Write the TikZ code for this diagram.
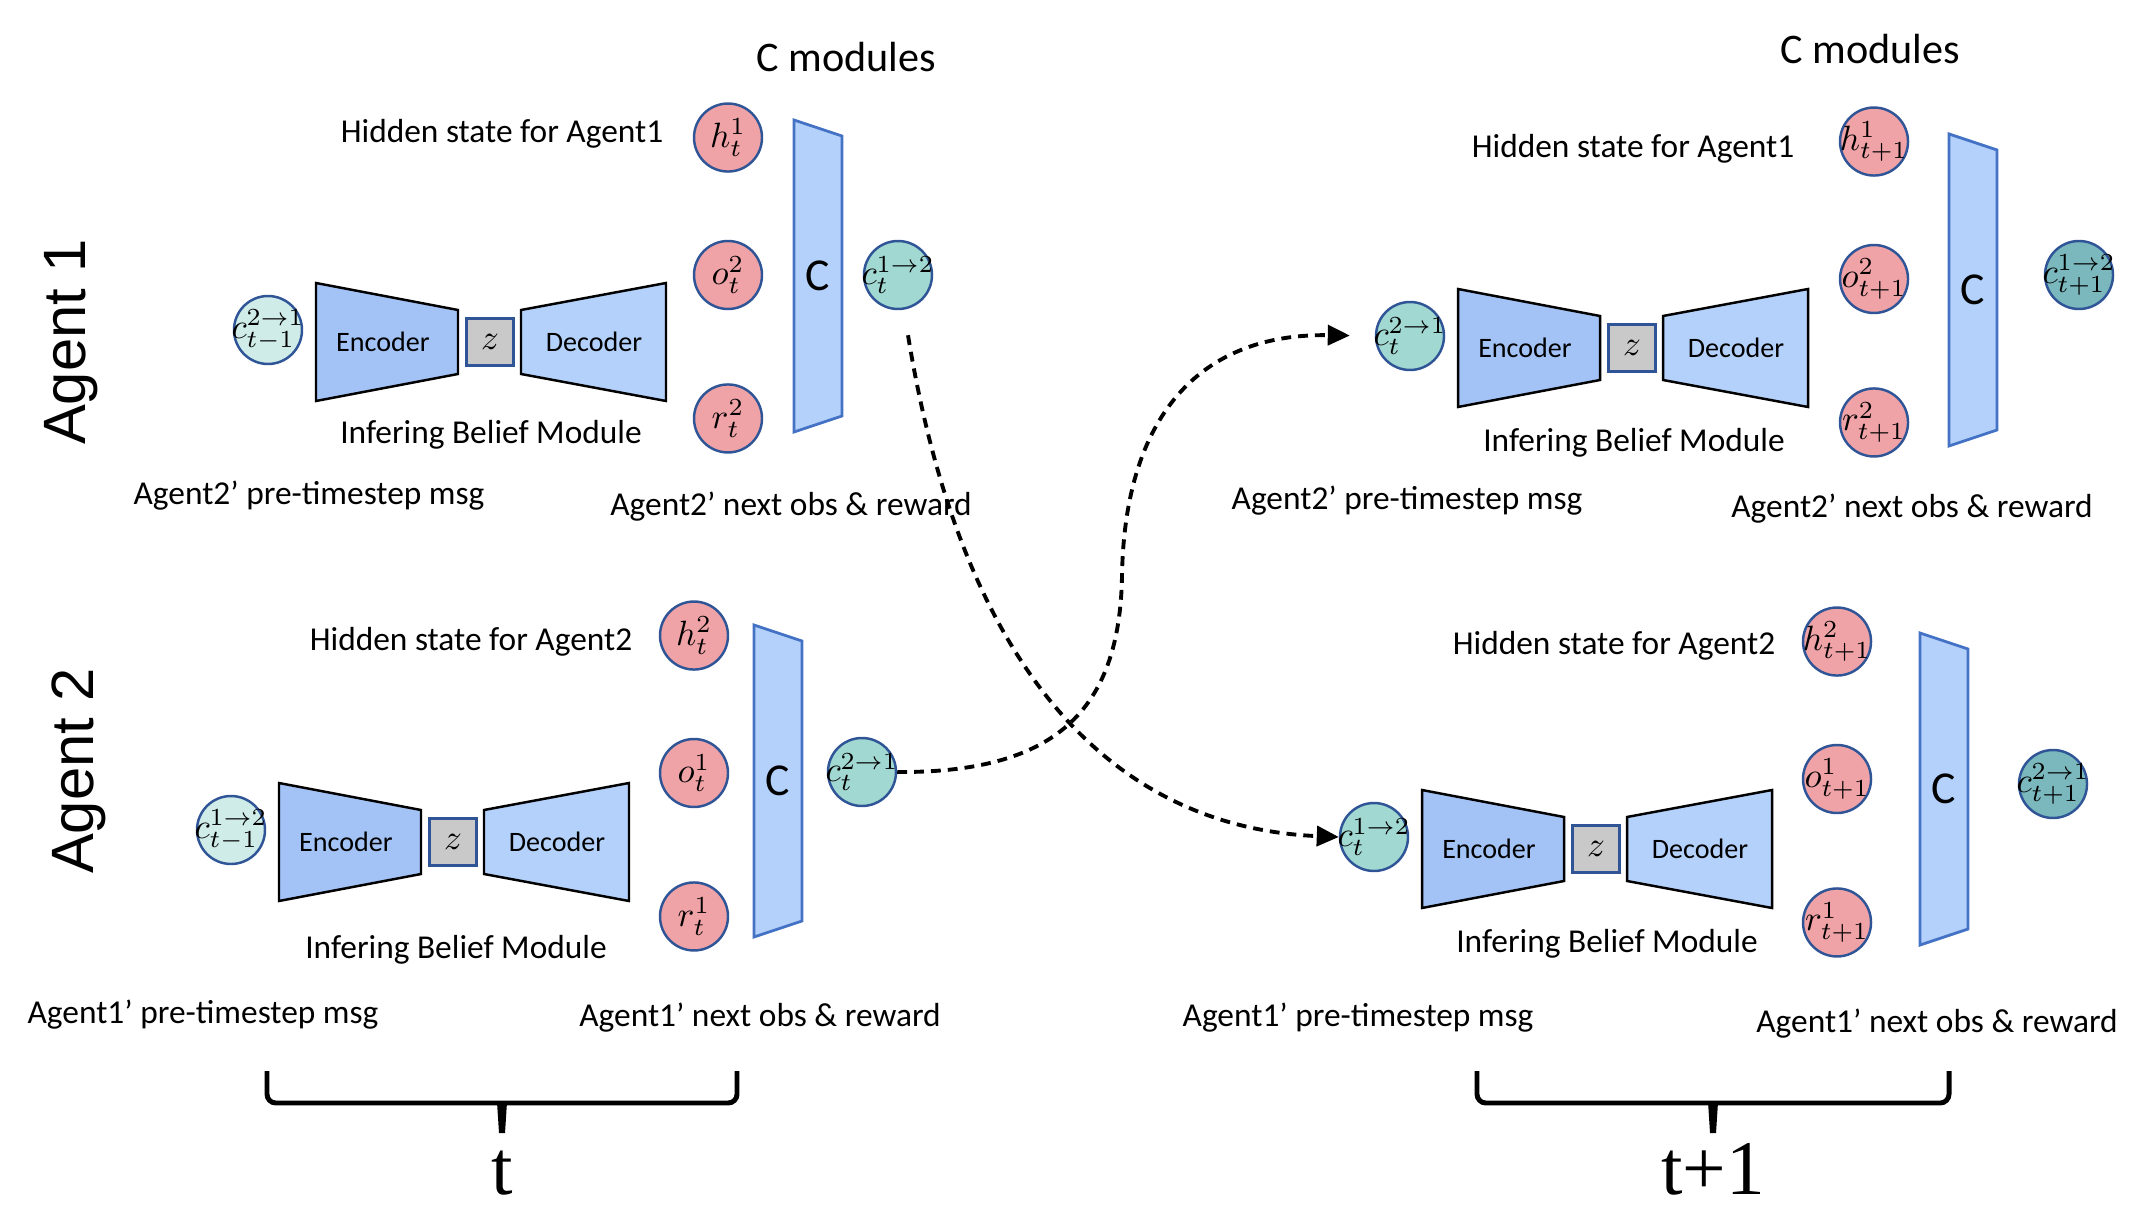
\documentclass[tikz,border=0pt]{standalone}
\usepackage{fontspec}
\setmainfont{Carlito}
\newfontfamily\agentfont{Liberation Sans}
\newfontfamily\stepfont{Liberation Serif}
\usetikzlibrary{arrows.meta,positioning,calc}
\definecolor{Navy}{HTML}{2F5597}
\definecolor{Pink}{HTML}{F0A3A7}
\definecolor{MsgPale}{HTML}{CFECE9}
\definecolor{MsgTeal}{HTML}{A2D8D2}
\definecolor{MsgDeep}{HTML}{7BB8BD}
\definecolor{EncBlue}{HTML}{A3C3F7}
\definecolor{DecBlue}{HTML}{B3D1FA}
\definecolor{BarEdge}{HTML}{4472C4}
\definecolor{ZGrey}{HTML}{C9C9C9}
\tikzset{
  msg/.style={circle, draw=Navy, line width=0.7pt, minimum size=0.68cm, inner sep=0pt, font=\fontsize{10}{11}\selectfont},
  obs/.style={msg, fill=Pink},
  lbl/.style={inner sep=0pt, font=\fontsize{9.5}{11}\selectfont},
  boxtext/.style={inner sep=0pt, font=\fontsize{8}{10}\selectfont},
  msgflow/.style={dash pattern=on 2.8pt off 2pt, line width=1.1pt, -{Triangle[length=2.2mm,width=2mm]}}
}
\newcommand{\sym}[1]{\makebox[0pt]{$#1$}}
% encoder, latent z, decoder and the incoming message
\newcommand{\beliefnet}[5]{
  \begin{scope}[shift={(#2,#3)}]
    \draw[fill=EncBlue, draw=black, line width=0.7pt] (0,0.59) -- (1.42,0.32) -- (1.42,-0.32) -- (0,-0.59) -- cycle;
    \node[boxtext] (#1enc) at (0.67,0) {Encoder};
    \node[draw=Navy, fill=ZGrey, line width=0.8pt, minimum size=0.47cm, inner sep=0pt] (#1z) at (1.74,0) {$z$};
    \draw[fill=DecBlue, draw=black, line width=0.7pt] (2.05,0.32) -- (3.50,0.59) -- (3.50,-0.59) -- (2.05,-0.32) -- cycle;
    \node[boxtext] (#1dec) at (2.78,0) {Decoder};
    \node[msg, fill=#5] (#1in) at (-0.48,0.12) {\sym{#4}};
  \end{scope}
}
\newcommand{\obsstack}[5]{
  \node[obs] (#1o) at (#2) {\sym{o^{#5}_{#3}}};
  \node[obs, above=0.67cm of #1o] (#1h) {\sym{h^{#4}_{#3}}};
  \node[obs, below=0.73cm of #1o] (#1r) {\sym{r^{#5}_{#3}}};
}
\newcommand{\cbar}[3]{
  \begin{scope}[shift={(#2,#3)}]
    \draw[fill=DecBlue, draw=BarEdge, line width=0.8pt] (-0.24,1.56) -- (0.24,1.40) -- (0.24,-1.40) -- (-0.24,-1.56) -- cycle;
    \node[inner sep=0pt, font=\fontsize{13}{15}\selectfont] (#1) at (0,0) {C};
  \end{scope}
}
\newcommand{\timebrace}[4]{
  \draw[line width=1.4pt, rounded corners=2.5pt] (#2,1.35) |- ({(#2+#3)/2},1.03) -| (#3,1.35);
  \fill ({(#2+#3)/2-0.05},1.04) -- ({(#2+#3)/2+0.05},1.04) -- ({(#2+#3)/2+0.03},0.73) -- ({(#2+#3)/2-0.03},0.73) -- cycle;
  \node[anchor=base, inner sep=0pt, font=\stepfont\fontsize{22}{24}\selectfont] (#1) at ({(#2+#3)/2},0.12) {#4};
}

\begin{document}
\begin{tikzpicture}
        \useasboundingbox (0,0) rectangle (21.46,12.06);
        % agent 1, step t
        \beliefnet{a1t}{3.16}{8.64}{c^{2\to1}_{t-1}}{MsgPale}
        \obsstack{a1t}{7.28,9.31}{t}{1}{2}
        \cbar{a1tC}{8.18}{9.30}
        \node[msg, fill=MsgTeal] (a1tout) at (8.98,9.31) {\sym{c^{1\to2}_{t}}};
        \node[lbl, font=\fontsize{12}{14}\selectfont] (a1ttitle) at (8.46,11.49) {C modules};
        \node[lbl] (a1thid) at (5.02,10.72) {Hidden state for Agent1};
        \node[lbl] (a1tibm) at (4.91,7.71) {Infering Belief Module};
        \node[lbl] (a1tpre) at (3.09,7.10) {Agent2’ pre-timestep msg};
        \node[lbl] (a1tnext) at (7.91,6.99) {Agent2’ next obs \& reward};
        % agent 2, step t
        \beliefnet{a2t}{2.79}{3.64}{c^{1\to2}_{t-1}}{MsgPale}
        \obsstack{a2t}{6.94,4.33}{t}{2}{1}
        \cbar{a2tC}{7.78}{4.25}
        \node[msg, fill=MsgTeal] (a2tout) at (8.62,4.34) {\sym{c^{2\to1}_{t}}};
        \node[lbl] (a2thid) at (4.71,5.64) {Hidden state for Agent2};
        \node[lbl] (a2tibm) at (4.56,2.56) {Infering Belief Module};
        \node[lbl] (a2tpre) at (2.03,1.91) {Agent1’ pre-timestep msg};
        \node[lbl] (a2tnext) at (7.60,1.88) {Agent1’ next obs \& reward};
        % agent 1, step t+1
        \beliefnet{a1n}{14.58}{8.58}{c^{2\to1}_{t}}{MsgTeal}
        \obsstack{a1n}{18.74,9.27}{t+1}{1}{2}
        \cbar{a1nC}{19.73}{9.16}
        \node[msg, fill=MsgDeep] (a1nout) at (20.79,9.31) {\sym{c^{1\to2}_{t+1}}};
        \node[lbl, font=\fontsize{12}{14}\selectfont] (a1ntitle) at (18.70,11.57) {C modules};
        \node[lbl] (a1nhid) at (16.33,10.57) {Hidden state for Agent1};
        \node[lbl] (a1nibm) at (16.34,7.63) {Infering Belief Module};
        \node[lbl] (a1npre) at (14.07,7.05) {Agent2’ pre-timestep msg};
        \node[lbl] (a1nnext) at (19.12,6.97) {Agent2’ next obs \& reward};
        % agent 2, step t+1
        \beliefnet{a2n}{14.22}{3.57}{c^{1\to2}_{t}}{MsgTeal}
        \obsstack{a2n}{18.37,4.27}{t+1}{2}{1}
        \cbar{a2nC}{19.44}{4.17}
        \node[msg, fill=MsgDeep] (a2nout) at (20.53,4.22) {\sym{c^{2\to1}_{t+1}}};
        \node[lbl] (a2nhid) at (16.14,5.60) {Hidden state for Agent2};
        \node[lbl] (a2nibm) at (16.07,2.62) {Infering Belief Module};
        \node[lbl] (a2npre) at (13.58,1.88) {Agent1’ pre-timestep msg};
        \node[lbl] (a2nnext) at (19.37,1.82) {Agent1’ next obs \& reward};
        % row titles
        \node[rotate=90, inner sep=0pt, font=\agentfont\fontsize{17}{20}\selectfont] (agent1) at (0.71,8.64) {Agent 1};
        \node[rotate=90, inner sep=0pt, font=\agentfont\fontsize{17}{20}\selectfont] (agent2) at (0.79,4.35) {Agent 2};
        % messages passed to the next step
        \coordinate (a1tsend) at ($(a1tout.south)+(0.1,-0.25)$);
        \draw[msgflow] (a1tsend) .. controls (9.65,5.22) and (11.22,3.78) .. (a2nin.west);
        \draw[msgflow, shorten >=0.25cm] (a2tout.east) .. controls (10.54,4.33) and (11.20,4.94) .. (11.22,6.31)
          .. controls (11.25,7.95) and (12.04,8.73) .. (a1nin.west);
        % time steps
        \timebrace{stept}{2.67}{7.37}{t}
        \timebrace{stepn}{14.77}{19.49}{t+1}
      \end{tikzpicture}
\end{document}
